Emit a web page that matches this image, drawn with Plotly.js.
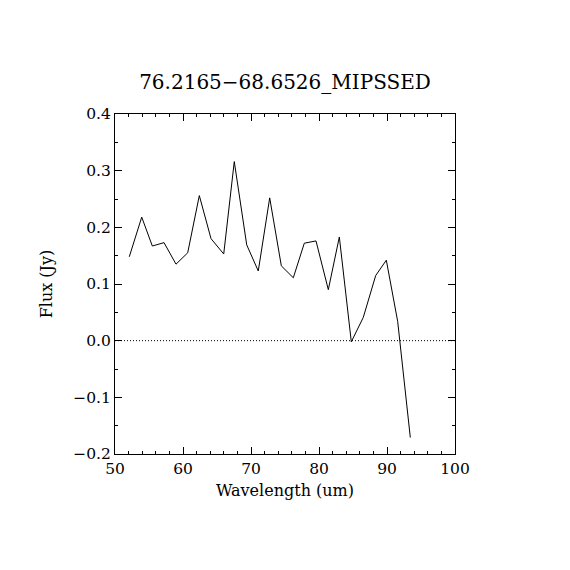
<!DOCTYPE html>
<html>
<head>
<meta charset="utf-8">
<script src="https://cdn.plot.ly/plotly-3.0.1.min.js"></script>
<style>html,body{margin:0;padding:0;background:#fff;}#chart{width:570px;height:570px;}</style>
</head>
<body>
<div id="chart"></div>
<script>
const wavelength = [52.10, 53.93, 55.49, 57.21, 58.97, 60.69, 62.40, 64.12, 65.99, 67.54, 69.37, 71.07, 72.75, 74.46, 76.22, 77.84, 79.56, 81.37, 82.99, 84.75, 86.51, 88.34, 89.90, 91.57, 93.43];
const flux = [0.148, 0.218, 0.167, 0.173, 0.135, 0.155, 0.256, 0.180, 0.153, 0.316, 0.169, 0.123, 0.252, 0.132, 0.111, 0.172, 0.176, 0.090, 0.183, -0.002, 0.041, 0.115, 0.142, 0.034, -0.171];
const titleText = "76.2165\u221268.6526_MIPSSED";
const xTitle = "Wavelength (um)";
const yTitle = "Flux (Jy)";

const font = {family: "DejaVu Serif, Liberation Serif, serif", color: "#000"};

const axisCommon = {
  showgrid: false, zeroline: false, showline: true, linecolor: "#000", linewidth: 1,
  mirror: "ticks", ticks: "inside", ticklen: 7, tickcolor: "#000", tickwidth: 1,
  tickfont: Object.assign({size: 15.5}, font)
};

const layout = {
  width: 570, height: 570,
  margin: {l: 115, r: 115, t: 114, b: 116},
  paper_bgcolor: "#fff", plot_bgcolor: "#fff",
  showlegend: false,
  title: {text: titleText, font: Object.assign({size: 20}, font), x: 0.5, xanchor: "center", y: 0.857, yanchor: "middle"},
  xaxis: Object.assign({}, axisCommon, {
    range: [50, 100], dtick: 10, tick0: 50,
    minor: {dtick: 2, ticks: "inside", ticklen: 3, tickcolor: "#000"},
    title: {text: xTitle, font: Object.assign({size: 16}, font), standoff: 8}
  }),
  yaxis: Object.assign({}, axisCommon, {
    range: [-0.2, 0.4], dtick: 0.1, tick0: -0.2, tickformat: ".1f",
    minor: {dtick: 0.05, ticks: "inside", ticklen: 3, tickcolor: "#000"},
    title: {text: yTitle, font: Object.assign({size: 16}, font), standoff: 16}
  }),
  shapes: [{type: "line", xref: "paper", x0: 0, x1: 1, yref: "y", y0: 0, y1: 0,
            line: {color: "#000", width: 1, dash: "1px,2px"}}]
};

Plotly.newPlot("chart", [{
  x: wavelength, y: flux, type: "scatter", mode: "lines",
  line: {color: "#000", width: 1}
}], layout, {staticPlot: true});
</script>
</body>
</html>
